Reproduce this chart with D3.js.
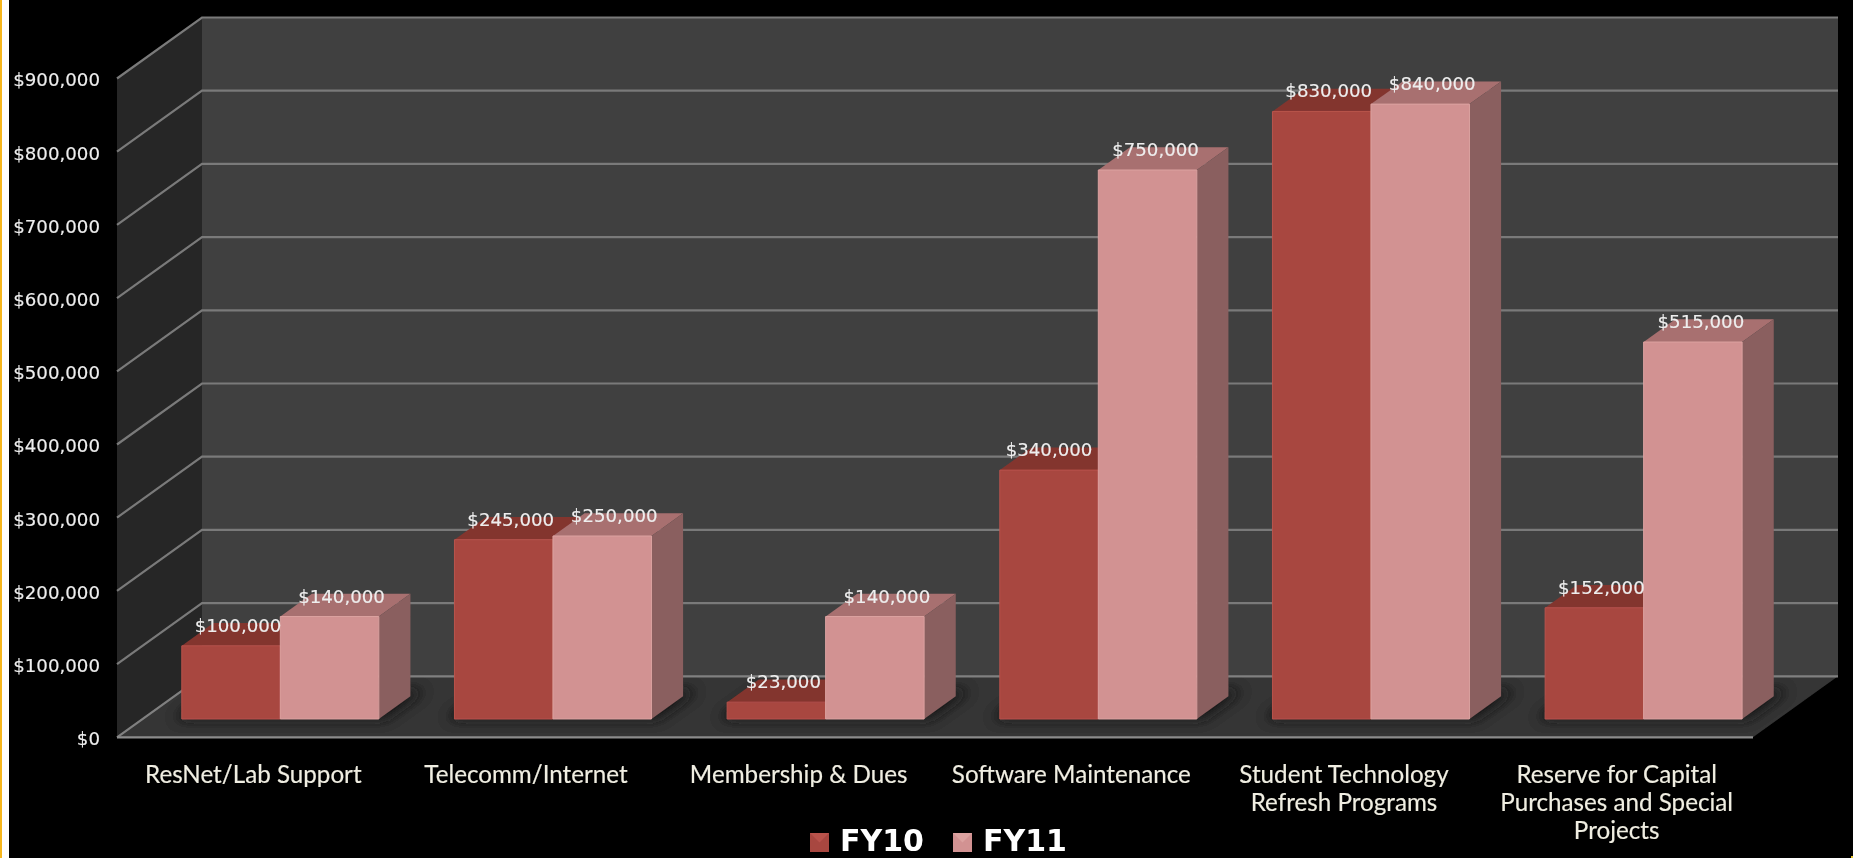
<!DOCTYPE html>
<html>
<head>
<meta charset="utf-8">
<script src="https://cdn.jsdelivr.net/npm/d3@7/dist/d3.min.js"></script>
<style>
  html, body { margin: 0; padding: 0; background: #000; overflow: hidden; }
  .ylabels text, .vlabel { font-family: "DejaVu Sans", sans-serif; font-size: 18.2px; fill: #eeeeee; stroke: #eeeeee; stroke-width: 0.15px; }
  .xlabels text { font-family: Lato, sans-serif; font-size: 24.2px; fill: #f0eee2; stroke: #f0eee2; stroke-width: 0.15px; }
  .legend text { font-family: "DejaVu Sans", sans-serif; font-weight: bold; font-size: 30px; fill: #fff; }
</style>
</head>
<body>
<div id="chart"></div>
<script>
const categories = ['ResNet/Lab Support', 'Telecomm/Internet', 'Membership & Dues', 'Software Maintenance',
    'Student Technology Refresh Programs', 'Reserve for Capital Purchases and Special Projects'];
const fy10 = [100000, 245000, 23000, 340000, 830000, 152000];
const fy11 = [140000, 250000, 140000, 750000, 840000, 515000];
const seriesNames = ['FY10', 'FY11'];
const yTicks = [0, 100000, 200000, 300000, 400000, 500000, 600000, 700000, 800000, 900000];

const width = 1853, height = 858;

// front plane of the fake 3d box
const left = 117, right = 1753, bottom = 737.3, top_ = 78.5;
const depthX = 85, depthY = 61;   // how far the back wall is shifted
const barZ0 = 0.30, barZ1 = 0.672;  // bar depth inside the floor

const x = d3.scaleBand().domain(categories).range([left, right]);
const xInner = d3.scaleBand().domain(seriesNames).range([39.3, 39.3 + 197]);
const y = d3.scaleLinear().domain([0, 900000]).range([bottom, top_]);

const colors = {
    FY10: { front: '#a84640', rim: '#b9534c', top: '#83352f', side: '#7c3733' },
    FY11: { front: '#d29292', rim: '#dca2a0', top: '#a87070', side: '#8a5f5f' }
};

// labels the original put a bit further left
const labelNudge = { 340000: -7, 750000: -4, 515000: -4 };

// x, value, depth -> screen
function project(px, value, z) {
    return [px + depthX * z, y(value) - depthY * z];
}
function poly(points) {
    return 'M' + points.map(p => p.join(',')).join('L') + 'Z';
}

const svg = d3.select('#chart').append('svg')
    .attr('width', width)
    .attr('height', height)
    .style('display', 'block');

const defs = svg.append('defs');
defs.append('filter').attr('id', 'shadow')
    .attr('x', '-30%').attr('y', '-60%').attr('width', '160%').attr('height', '220%')
    .append('feGaussianBlur').attr('stdDeviation', 7);
defs.append('filter').attr('id', 'soft')
    .append('feGaussianBlur').attr('stdDeviation', 0.55);

// page border on the left, and the yellow speck in the corner
svg.append('rect').attr('width', 2).attr('height', height).attr('fill', '#f7b71d');
svg.append('rect').attr('x', 2).attr('width', 7).attr('height', height).attr('fill', '#fff');
svg.append('rect').attr('x', width - 2).attr('y', height - 2).attr('width', 2).attr('height', 2).attr('fill', '#e8c52a');

const root = svg.append('g').attr('filter', 'url(#soft)');

// walls and floor
const yMax = y.domain()[1];
root.append('path')
    .attr('d', poly([project(left, 0, 1), project(right, 0, 1), project(right, yMax, 1), project(left, yMax, 1)]))
    .attr('fill', '#404040');
root.append('path')
    .attr('d', poly([project(left, 0, 0), project(left, 0, 1), project(left, yMax, 1), project(left, yMax, 0)]))
    .attr('fill', '#262626');
root.append('path')
    .attr('d', poly([project(left, 0, 0), project(right, 0, 0), project(right, 0, 1), project(left, 0, 1)]))
    .attr('fill', '#343434');

// dark blurred footprint on the floor
root.append('g').selectAll('path')
    .data(categories)
    .join('path')
    .attr('filter', 'url(#shadow)')
    .attr('fill', '#121212')
    .attr('d', c => {
        const a = x(c) + xInner('FY10') - 8, b = x(c) + xInner('FY11') + xInner.bandwidth() + 6;
        return poly([project(a, 0, barZ0), project(b, 0, barZ0), project(b, 0, barZ1 + 0.1), project(a, 0, barZ1 + 0.1)]);
    });

// gridlines
root.append('g').selectAll('path')
    .data(yTicks)
    .join('path')
    .attr('fill', 'none')
    .attr('stroke', d => d === 0 ? '#808080' : '#7a7a7a')
    .attr('stroke-width', 2.2)
    .attr('d', d => {
        const pts = [project(left, d, 0), project(left, d, 1), project(right, d, 1)];
        return 'M' + pts.map(p => p.join(',')).join('L');
    });
// floor front edge
root.append('path')
    .attr('d', 'M' + [project(left, 0, 0), project(right, 0, 0)].map(p => p.join(',')).join('L'))
    .attr('stroke', '#8c8c8c').attr('stroke-width', 2.2);

// one table row per bar
const bars = [];
categories.forEach((c, i) => {
    bars.push({ cat: c, series: 'FY10', value: fy10[i] });
    bars.push({ cat: c, series: 'FY11', value: fy11[i] });
});
const barX0 = d => x(d.cat) + xInner(d.series);
const barX1 = d => barX0(d) + xInner.bandwidth();

const barG = root.append('g').selectAll('g').data(bars).join('g');
barG.append('path')   // top
    .attr('fill', d => colors[d.series].top)
    .attr('d', d => poly([project(barX0(d), d.value, barZ0), project(barX1(d), d.value, barZ0),
        project(barX1(d), d.value, barZ1), project(barX0(d), d.value, barZ1)]));
barG.append('path')   // side
    .attr('fill', d => colors[d.series].side)
    .attr('d', d => poly([project(barX1(d), 0, barZ0), project(barX1(d), 0, barZ1),
        project(barX1(d), d.value, barZ1), project(barX1(d), d.value, barZ0)]));
barG.append('path')   // front
    .attr('fill', d => colors[d.series].front)
    .attr('stroke', d => colors[d.series].rim)
    .attr('stroke-width', 1)
    .attr('stroke-linejoin', 'round')
    .attr('d', d => poly([project(barX0(d), 0, barZ0), project(barX1(d), 0, barZ0),
        project(barX1(d), d.value, barZ0), project(barX0(d), d.value, barZ0)]));

// value labels
root.append('g').selectAll('text')
    .data(bars)
    .join('text')
    .attr('class', 'vlabel')
    .attr('text-anchor', 'middle')
    .attr('x', d => project((barX0(d) + barX1(d)) / 2, d.value, barZ0)[0] + (d.series === 'FY10' ? 7 : 12) + (labelNudge[d.value] || 0))
    .attr('y', d => project(0, d.value, barZ0)[1] - 14)
    .text(d => d3.format('$,')(d.value));

// y axis, only the labels
const yAxis = root.append('g')
    .attr('class', 'ylabels')
    .attr('transform', `translate(${left},1.5)`)
    .call(d3.axisLeft(y).tickValues(yTicks).tickFormat(d3.format('$,')).tickSize(0).tickPadding(17));
yAxis.select('.domain').remove();
yAxis.attr('font-family', null).attr('font-size', null);

// x axis, labels wrapped like the original
const xAxis = root.append('g')
    .attr('class', 'xlabels')
    .attr('transform', `translate(0,${bottom})`)
    .call(d3.axisBottom(x).tickSize(0));
xAxis.select('.domain').remove();
xAxis.attr('font-family', null).attr('font-size', null);
xAxis.selectAll('text').each(function (d) {
    const t = d3.select(this).attr('y', 46).attr('dy', null);
    const words = d.split(' ');
    let line = [], row = 0;
    t.text(null);
    let ts = t.append('tspan').attr('x', 0).attr('y', 46);
    words.forEach(w => {
        line.push(w);
        ts.text(line.join(' '));
        if (ts.node().getComputedTextLength() > 255 && line.length > 1) {
            line.pop();
            ts.text(line.join(' '));
            line = [w];
            row++;
            ts = t.append('tspan').attr('x', 0).attr('y', 46 + row * 28).text(w);
        }
    });
});

// legend
const legendX = d3.scaleOrdinal().domain(seriesNames).range([810, 953]);
const legend = root.append('g').attr('class', 'legend').selectAll('g')
    .data(seriesNames).join('g')
    .attr('transform', d => `translate(${legendX(d)},833)`);
legend.append('rect').attr('width', 19).attr('height', 19)
    .attr('fill', d => colors[d].front);
legend.append('path').attr('d', 'M0,0L19,0L9.5,9.5Z')
    .attr('fill', d => colors[d].rim);
legend.append('text').attr('x', 30).attr('y', 17.8).text(d => d);
</script>
</body>
</html>
